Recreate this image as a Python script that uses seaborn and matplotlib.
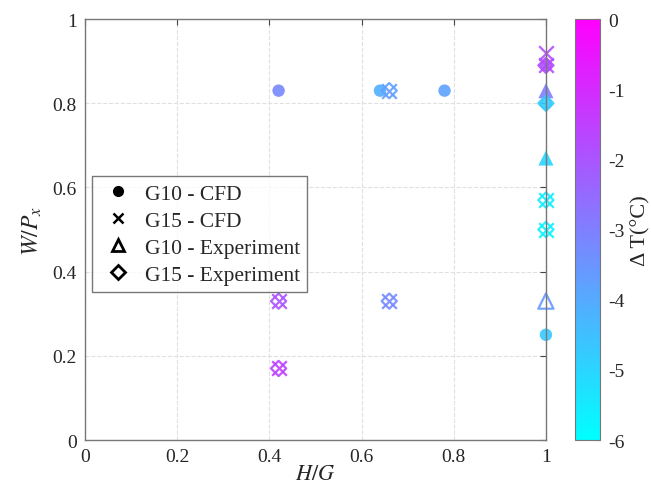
import numpy as np
import pandas as pd
import matplotlib
matplotlib.use('Agg')
import matplotlib.pyplot as plt
from matplotlib.lines import Line2D
import seaborn as sns

# G10 - CFD (circles)
g10_cfd_x = [0.42, 0.64, 0.78, 1.0, 1.0, 1.0]
g10_cfd_y = [0.83, 0.83, 0.83, 0.80, 0.25, 0.89]
g10_cfd_dt = [-3.2, -4.1, -3.8, -4.8, -4.7, -1.8]

# G15 - CFD (crosses)
g15_cfd_x = [0.66, 0.42, 0.42, 0.66, 1.0, 1.0, 1.0, 1.0]
g15_cfd_y = [0.83, 0.33, 0.17, 0.33, 0.92, 0.57, 0.50, 0.89]
g15_cfd_dt = [-3.6, -1.9, -1.5, -3.2, -1.8, -5.6, -5.7, -1.8]

# G10 - Experiment (triangles)
g10_exp_x = [1.0, 1.0, 1.0]
g10_exp_y = [0.83, 0.67, 0.33]
g10_exp_dt = [-3.0, -5.0, -3.6]

# G15 - Experiment (diamonds)
g15_exp_x = [0.66, 0.42, 0.42, 0.66, 1.0, 1.0, 1.0, 1.0]
g15_exp_y = [0.83, 0.33, 0.17, 0.33, 0.57, 0.50, 0.89, 0.80]
g15_exp_dt = [-3.8, -2.0, -1.6, -3.3, -5.6, -5.7, -1.8, -4.8]

x_ticks = [0, 0.2, 0.4, 0.6, 0.8, 1]
y_ticks = [0, 0.2, 0.4, 0.6, 0.8, 1]
cbar_ticks = [0, -1, -2, -3, -4, -5, -6]

sns.set_style('white')
plt.rcParams['font.family'] = ['Liberation Serif', 'DejaVu Serif']
plt.rcParams['mathtext.fontset'] = 'stix'
plt.rcParams['axes.unicode_minus'] = False

cmap = plt.get_cmap('cool')
norm = plt.Normalize(-6, 0)

fig = plt.figure(figsize=(6.51, 5.02), dpi=100)
ax = fig.add_axes([0.1306, 0.1215, 0.708, 0.8385])
cax = fig.add_axes([0.883, 0.1215, 0.039, 0.8385])

def draw(xs, ys, dts, marker, size, filled=True, lw=1.2):
    df = pd.DataFrame({'x': xs, 'y': ys, 'dt': dts})
    if filled:
        sns.scatterplot(data=df, x='x', y='y', hue='dt', palette='cool', hue_norm=(-6, 0),
                        marker=marker, s=size, linewidth=lw, legend=False, ax=ax, alpha=0.9)
    else:
        for _, r in df.iterrows():
            ax.scatter(r['x'], r['y'], marker=marker, s=size, facecolors='none',
                       edgecolors=[cmap(norm(r['dt']))], linewidths=lw, alpha=0.9)

draw(g10_cfd_x, g10_cfd_y, g10_cfd_dt, 'o', 80, lw=0)
for xx, yy, dd in zip(g15_cfd_x, g15_cfd_y, g15_cfd_dt):
    ax.scatter(xx, yy, marker='x', s=110, color=cmap(norm(dd)), linewidths=1.6, alpha=0.9)
draw(g10_exp_x[:2], g10_exp_y[:2], g10_exp_dt[:2], '^', 120, lw=0)
draw(g10_exp_x[2:], g10_exp_y[2:], g10_exp_dt[2:], '^', 120, filled=False, lw=1.6)
draw(g15_exp_x, g15_exp_y, g15_exp_dt, 'D', 60, filled=False, lw=1.6)
for c in ax.collections:
    c.set_clip_on(False)

ax.set_xlim(0, 1)
ax.set_ylim(0, 1)
ax.set_xticks(x_ticks)
ax.set_yticks(y_ticks)
ax.set_xticklabels(['0', '0.2', '0.4', '0.6', '0.8', '1'], fontsize=14)
ax.set_yticklabels(['0', '0.2', '0.4', '0.6', '0.8', '1'], fontsize=14)
ax.tick_params(direction='in', length=4, top=True, right=True, color='#444444', pad=6)
ax.grid(True, linestyle='--', color='#e0e0e0', linewidth=0.8)
for sp in ax.spines.values():
    sp.set_color('#777777')
    sp.set_linewidth(1.0)
ax.set_xlabel(r'$H/G$', fontsize=16, labelpad=0)
ax.set_ylabel(r'$W/P_x$', fontsize=17, labelpad=6)

sm = plt.cm.ScalarMappable(norm=norm, cmap=cmap)
cb = fig.colorbar(sm, cax=cax, ticks=cbar_ticks)
cb.ax.set_yticklabels([str(t) for t in cbar_ticks], fontsize=14)
cb.ax.tick_params(direction='in', length=4, color='#555555', pad=6)
cb.outline.set_edgecolor('#777777')
cb.set_label('Δ T(°C)', fontsize=16, labelpad=4)

handles = [
    Line2D([], [], marker='o', color='k', linestyle='none', markersize=7, label='G10 - CFD'),
    Line2D([], [], marker='x', color='k', linestyle='none', markersize=7, markeredgewidth=1.8, label='G15 - CFD'),
    Line2D([], [], marker='^', color='k', markerfacecolor='none', linestyle='none', markersize=9, markeredgewidth=2, label='G10 - Experiment'),
    Line2D([], [], marker='D', color='k', markerfacecolor='none', linestyle='none', markersize=7, markeredgewidth=2, label='G15 - Experiment'),
]
leg = ax.legend(handles=handles, loc='upper left', bbox_to_anchor=(0.015, 0.627), fontsize=15.5,
                frameon=True, fancybox=False, edgecolor='#555555', handletextpad=0.4,
                borderpad=0.35, labelspacing=0.32, handlelength=1.7, borderaxespad=0)
leg.get_frame().set_linewidth(1.0)

fig.savefig('out.png', dpi=100)
